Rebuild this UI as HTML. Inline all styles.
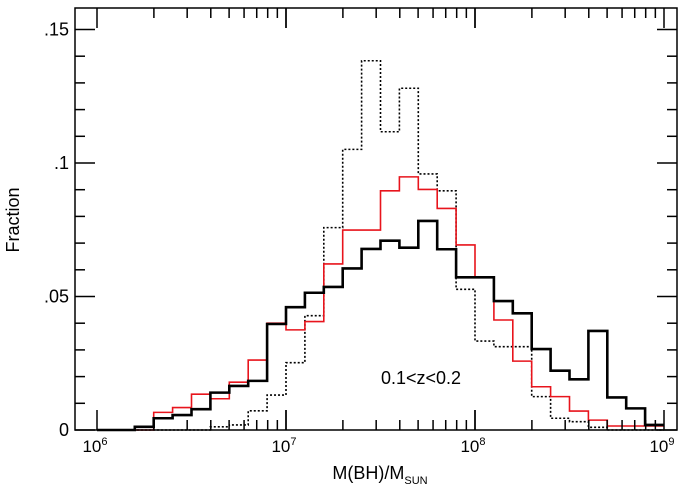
<!DOCTYPE html>
<html><head><meta charset="utf-8"><style>
body{margin:0;background:#fff}
svg{display:block;font-family:"Liberation Sans",Arial,sans-serif}
</style></head><body>
<svg id="c" width="688" height="491"></svg>
<script>
const binStartsLog = [6.0,6.1,6.2,6.3,6.4,6.5,6.6,6.7,6.8,6.9,7.0,7.1,7.2,7.3,7.4,7.5,7.6,7.7,7.8,7.9,8.0,8.1,8.2,8.3,8.4,8.5,8.6,8.7,8.8,8.9];
const blackSolid = [0,0,0.0012,0.0044,0.0056,0.0078,0.014,0.0165,0.0184,0.0397,0.046,0.0514,0.0536,0.0605,0.0678,0.0709,0.0683,0.0783,0.0677,0.0572,0.0572,0.0483,0.0437,0.0303,0.0222,0.019,0.0371,0.0122,0.0081,0.0019];
const redSolid = [0,0,0,0.0066,0.0084,0.0134,0.0117,0.0179,0.0262,0.04,0.0375,0.0406,0.0622,0.0749,0.0749,0.0896,0.0948,0.0901,0.083,0.0693,0.0572,0.0412,0.0258,0.0162,0.0125,0.0071,0.0037,0.0015,0.0015,0.0015];
const blackDotted = [0,0,0,0,0,0,0.0012,0.0019,0.0072,0.0131,0.0252,0.0428,0.0758,0.1051,0.1383,0.1117,0.128,0.0959,0.0896,0.0527,0.0333,0.0312,0.0312,0.0125,0.0044,0.0031,0.001,0,0,0];
const yTickVals = [0,0.05,0.1,0.15];
const yTickLabels = ["0",".05",".1",".15"];
const xDecades = [6,7,8,9];
const binWidth = 0.1;

const L=75,R=677,T=8,B=430;
const X=v=>97+(v-6)*189;
const Y=v=>B-v*2670;
const NS="http://www.w3.org/2000/svg";
const svg=document.getElementById('c');
function mk(t,a,p){const e=document.createElementNS(NS,t);for(const k in a)e.setAttribute(k,a[k]);(p||svg).appendChild(e);return e;}

function hist(vals,color,w,dash,name){
  let d="";
  vals.forEach((v,i)=>{
    const x0=X(binStartsLog[i]),x1=X(binStartsLog[i]+binWidth),y=Y(v);
    d+=(i===0?"M"+x0+","+Y(0)+" L"+x0+","+y:" L"+x0+","+y)+" L"+x1+","+y;
  });
  const p=mk('path',{d:d,fill:'none',stroke:color,'stroke-width':w});
  if(dash)p.setAttribute('stroke-dasharray',dash);
  
  
}
hist(blackDotted,'#000',1.6,'2,2','dotted-histogram');
hist(redSolid,'#e8141c',1.6,null,'red-histogram');
hist(blackSolid,'#000',2.6,null,'black-histogram');

const fr=mk('rect',{x:L,y:T,width:R-L,height:B-T,fill:'none',stroke:'#000','stroke-width':1.5});



for(let k=0;k<=15;k++){
  const v=k*0.01,y=Y(v),len=(k%5===0)?20:10;
  mk('line',{x1:L,x2:L+len,y1:y,y2:y,stroke:'#000','stroke-width':1.5});
  mk('line',{x1:R,x2:R-len,y1:y,y2:y,stroke:'#000','stroke-width':1.5});
}
yTickVals.forEach((v,i)=>{
  const t=mk('text',{x:L-6,y:Y(v)+6,'text-anchor':'end','font-size':18});
  t.textContent=yTickLabels[i];
  
  
});
for(let d=6;d<9;d++){for(let m=1;m<=10;m++){
  const x=X(d+Math.log10(m)),len=(m===1||m===10)?20:10;
  mk('line',{x1:x,x2:x,y1:B,y2:B-len,stroke:'#000','stroke-width':1.5});
  mk('line',{x1:x,x2:x,y1:T,y2:T+len,stroke:'#000','stroke-width':1.5});
}}
xDecades.forEach(d=>{
  const t=mk('text',{x:X(d)-2,y:B+22,'text-anchor':'middle','font-size':17});
  
  
  t.innerHTML='10<tspan dy="-7" font-size="11">'+d+'</tspan>';
});
const xl=mk('text',{x:380,y:479,'text-anchor':'middle','font-size':18});
xl.innerHTML='M(BH)/M<tspan dy="5" font-size="11">SUN</tspan>';


const yl=mk('text',{x:0,y:0,'text-anchor':'middle','font-size':18,transform:'translate(19,220) rotate(-90)'});
yl.textContent='Fraction';


const an=mk('text',{x:381,y:384,'font-size':18});
an.textContent='0.1<z<0.2';


</script>
</body></html>
